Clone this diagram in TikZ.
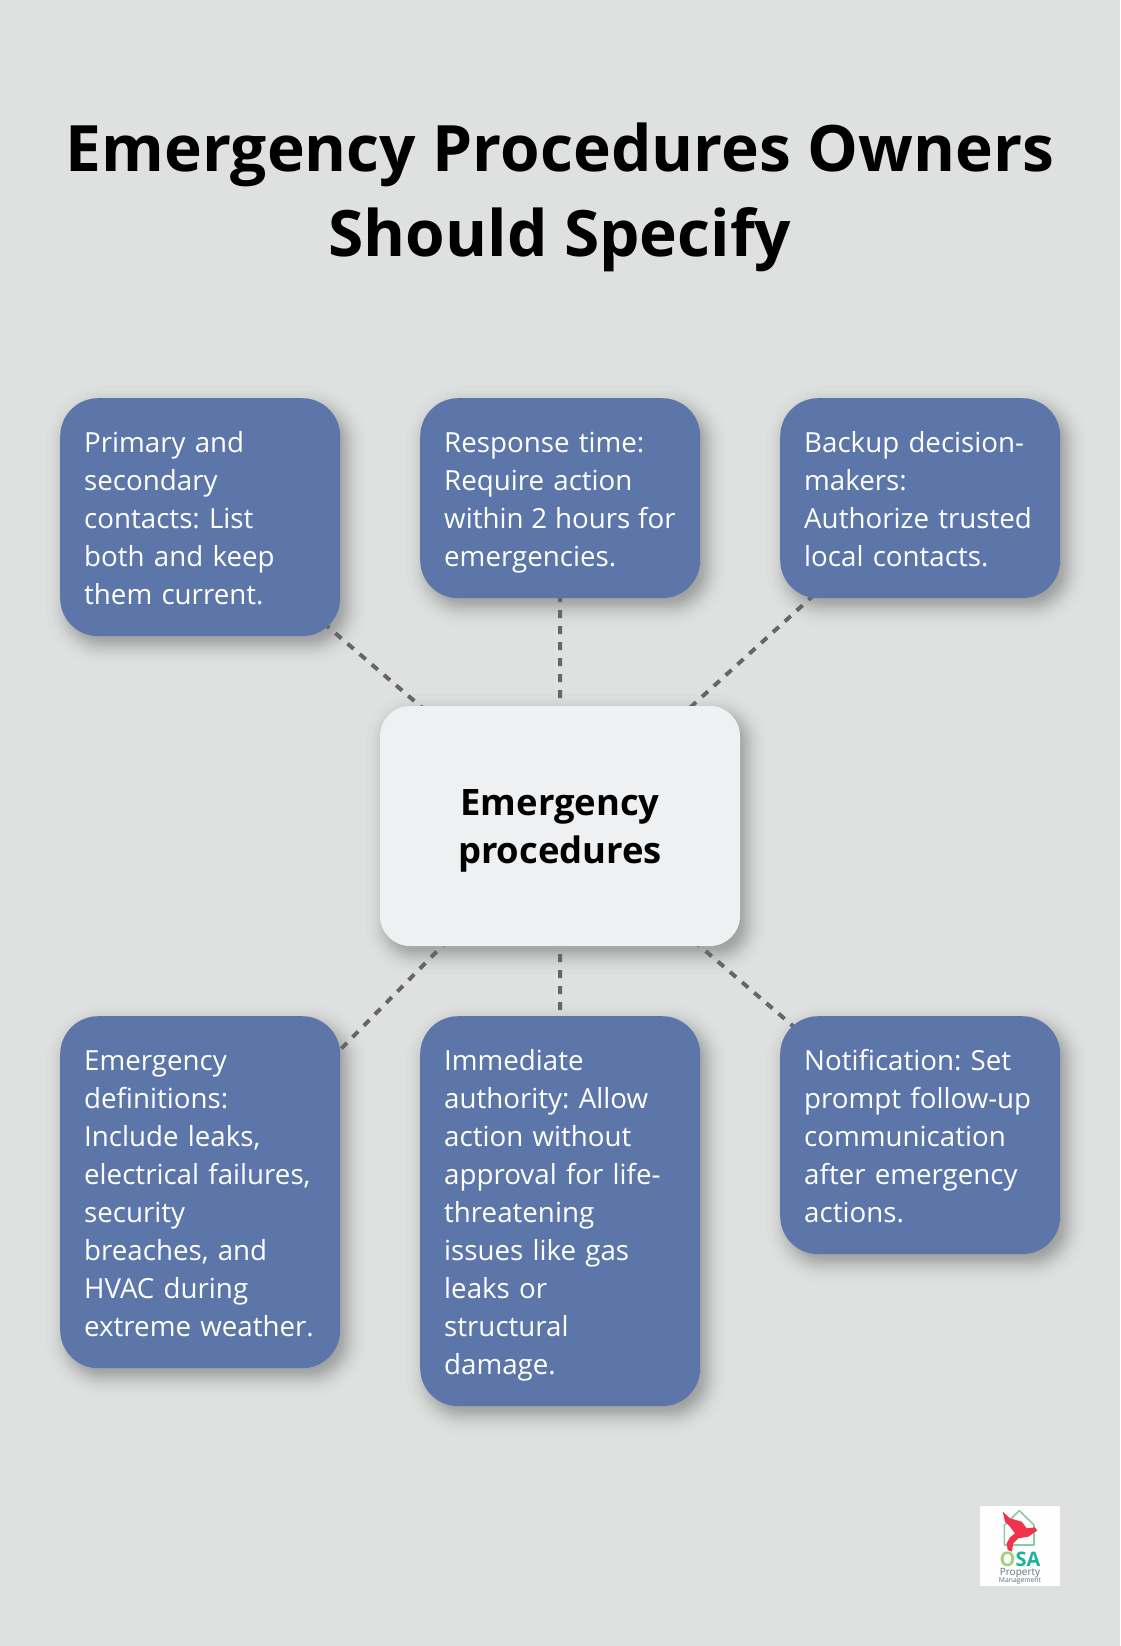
\documentclass[tikz,border=0pt]{standalone}
\usepackage{fontspec}
\setmainfont{Open Sans}
\usetikzlibrary{calc}
\definecolor{bgc}{HTML}{DFE1E0}
\definecolor{boxc}{HTML}{5D76A9}
\definecolor{midc}{HTML}{EFF0F2}
\definecolor{linec}{HTML}{666666}
\definecolor{logogreen}{HTML}{8CCB9B}
\definecolor{logored}{HTML}{F0324F}
\definecolor{logoteal}{HTML}{1FB19A}
\definecolor{logolime}{HTML}{A5D07F}
\definecolor{logogrey}{HTML}{5F6F7F}
\pgfdeclarelayer{shadowlayer}
\pgfdeclarelayer{linelayer}
\pgfsetlayers{shadowlayer,linelayer,main}
\newcommand{\topstrut}{\rule{0pt}{30.4pt}}
\newcommand{\botstrut}{\rule[-7.6pt]{0pt}{7.6pt}}
\tikzset{
  infobox/.style={draw=none,fill=boxc,text=white,rounded corners=38pt,anchor=north west,
    inner xsep=24pt,inner ysep=24pt,text width=232pt,align=left,
    font=\frenchspacing\fontsize{27.7}{38}\selectfont},
  hubbox/.style={fill=midc,rounded corners=30pt,minimum width=360pt,minimum height=240pt,
    inner sep=0pt,align=center,text=black,font=\bfseries\fontsize{36.4}{48}\selectfont},
  titletext/.style={align=center,text=black,font=\bfseries\fontsize{64}{85}\selectfont},
  linkline/.style={draw=linec,line width=4pt,dash pattern=on 8pt off 8pt},
}
\newcommand{\softshadow}[2]{%
  \foreach \s in {-20,-15.5,-13,-11,-9.5,-8,-7,-5.8,-4.7,-3.6,-2.7,-1.8,-0.9,0,0.9,1.8,2.7,3.6,4.7,5.8,7,8,9.5,11,13,15.5,20}{%
    \pgfmathsetmacro{\rr}{max(#2+\s,1)}%
    \fill[black,opacity=0.0125,rounded corners=\rr pt]
      ($(#1.north west)+(6-\s,8-\s)$) rectangle ($(#1.south east)+(6+\s,8+\s)$);
  }}
\begin{document}
\begin{tikzpicture}[x=1pt,y=-1pt]
\useasboundingbox (0,0) rectangle (1120,1646);
\node[titletext] (title) at (560,197.5) {Emergency Procedures Owners\\Should Specify};
\node[infobox] (n1) at (60,398) {\topstrut Primary and\\secondary\\contacts: List\\both and keep\\them current.\botstrut};
\node[infobox] (n2) at (420,398) {\topstrut Response time:\\Require action\\\mbox{within\kern-1.4pt{} 2\kern-1.4pt{} hours\kern-1.4pt{} for}\\emergencies.\botstrut};
\node[infobox] (n3) at (780,398) {\topstrut Backup decision-\\makers:\\Authorize trusted\\local contacts.\botstrut};
\node[hubbox] (hub) at (560,826) {\rule{0pt}{36pt}Emergency\\procedures\rule[-5.5pt]{0pt}{5.5pt}};
\node[infobox] (n4) at (60,1016) {\topstrut Emergency\\definitions:\\Include leaks,\\electrical failures,\\security\\breaches, and\\HVAC during\\extreme weather.\botstrut};
\node[infobox] (n5) at (420,1016) {\topstrut Immediate\\authority: Allow\\action without\\approval for life-\\threatening\\issues like gas\\leaks or\\structural\\damage.\botstrut};
\node[infobox] (n6) at (780,1016) {\topstrut Notification: Set\\prompt follow-up\\communication\\after emergency\\actions.\botstrut};
\begin{pgfonlayer}{shadowlayer}
  \fill[bgc] (0,0) rectangle (1120,1646);
  \softshadow{n1}{38}\softshadow{n2}{38}\softshadow{n3}{38}\softshadow{n4}{38}\softshadow{n5}{38}\softshadow{n6}{38}\softshadow{hub}{30}
\end{pgfonlayer}
\begin{pgfonlayer}{linelayer}
  \draw[linkline] (hub.center) -- (n1.center);
  \draw[linkline] (hub.center) -- (n2.center);
  \draw[linkline] (hub.center) -- (n3.center);
  \draw[linkline] (hub.center) -- (n4.center);
  \draw[linkline] (hub.center) -- (n5.center);
  \draw[linkline] (hub.center) -- (n6.center);
\end{pgfonlayer}
% logo
\fill[white!96!bgc] (980,1506) rectangle (1060,1586);
\begin{scope}[shift={(960,1490)},x=0.3333pt,y=-0.3333pt]
  \draw[draw=logogreen,line width=1.6pt,line join=round]
    (178,62) -- (222,105) -- (222,165) -- (133,165) -- (133,105) -- cycle;
  \fill[logored]
    (128,65) -- (150,85) -- (185,95) -- (200,115) -- (225,112) -- (232,122) -- (222,128)
    -- (205,140) -- (175,145) -- (160,160) -- (155,185) -- (143,180) -- (140,160)
    -- (150,142) -- (165,130) -- (150,110) -- (135,95) -- cycle;
  \node[inner sep=0pt,font=\bfseries\fontsize{20}{20}\selectfont] (osa) at (180,207)
    {\textcolor{logolime}{O}\textcolor{logoteal}{S}\textcolor{logoteal}{A}};
  \node[inner sep=0pt,text=logogrey,font=\fontsize{10}{11}\selectfont] (prop) at (180,248.5) {Property};
  \node[inner sep=0pt,text=logogrey,font=\fontsize{6.8}{7}\selectfont] (mgmt) at (180,274) {Management};
\end{scope}
\end{tikzpicture}
\end{document}
